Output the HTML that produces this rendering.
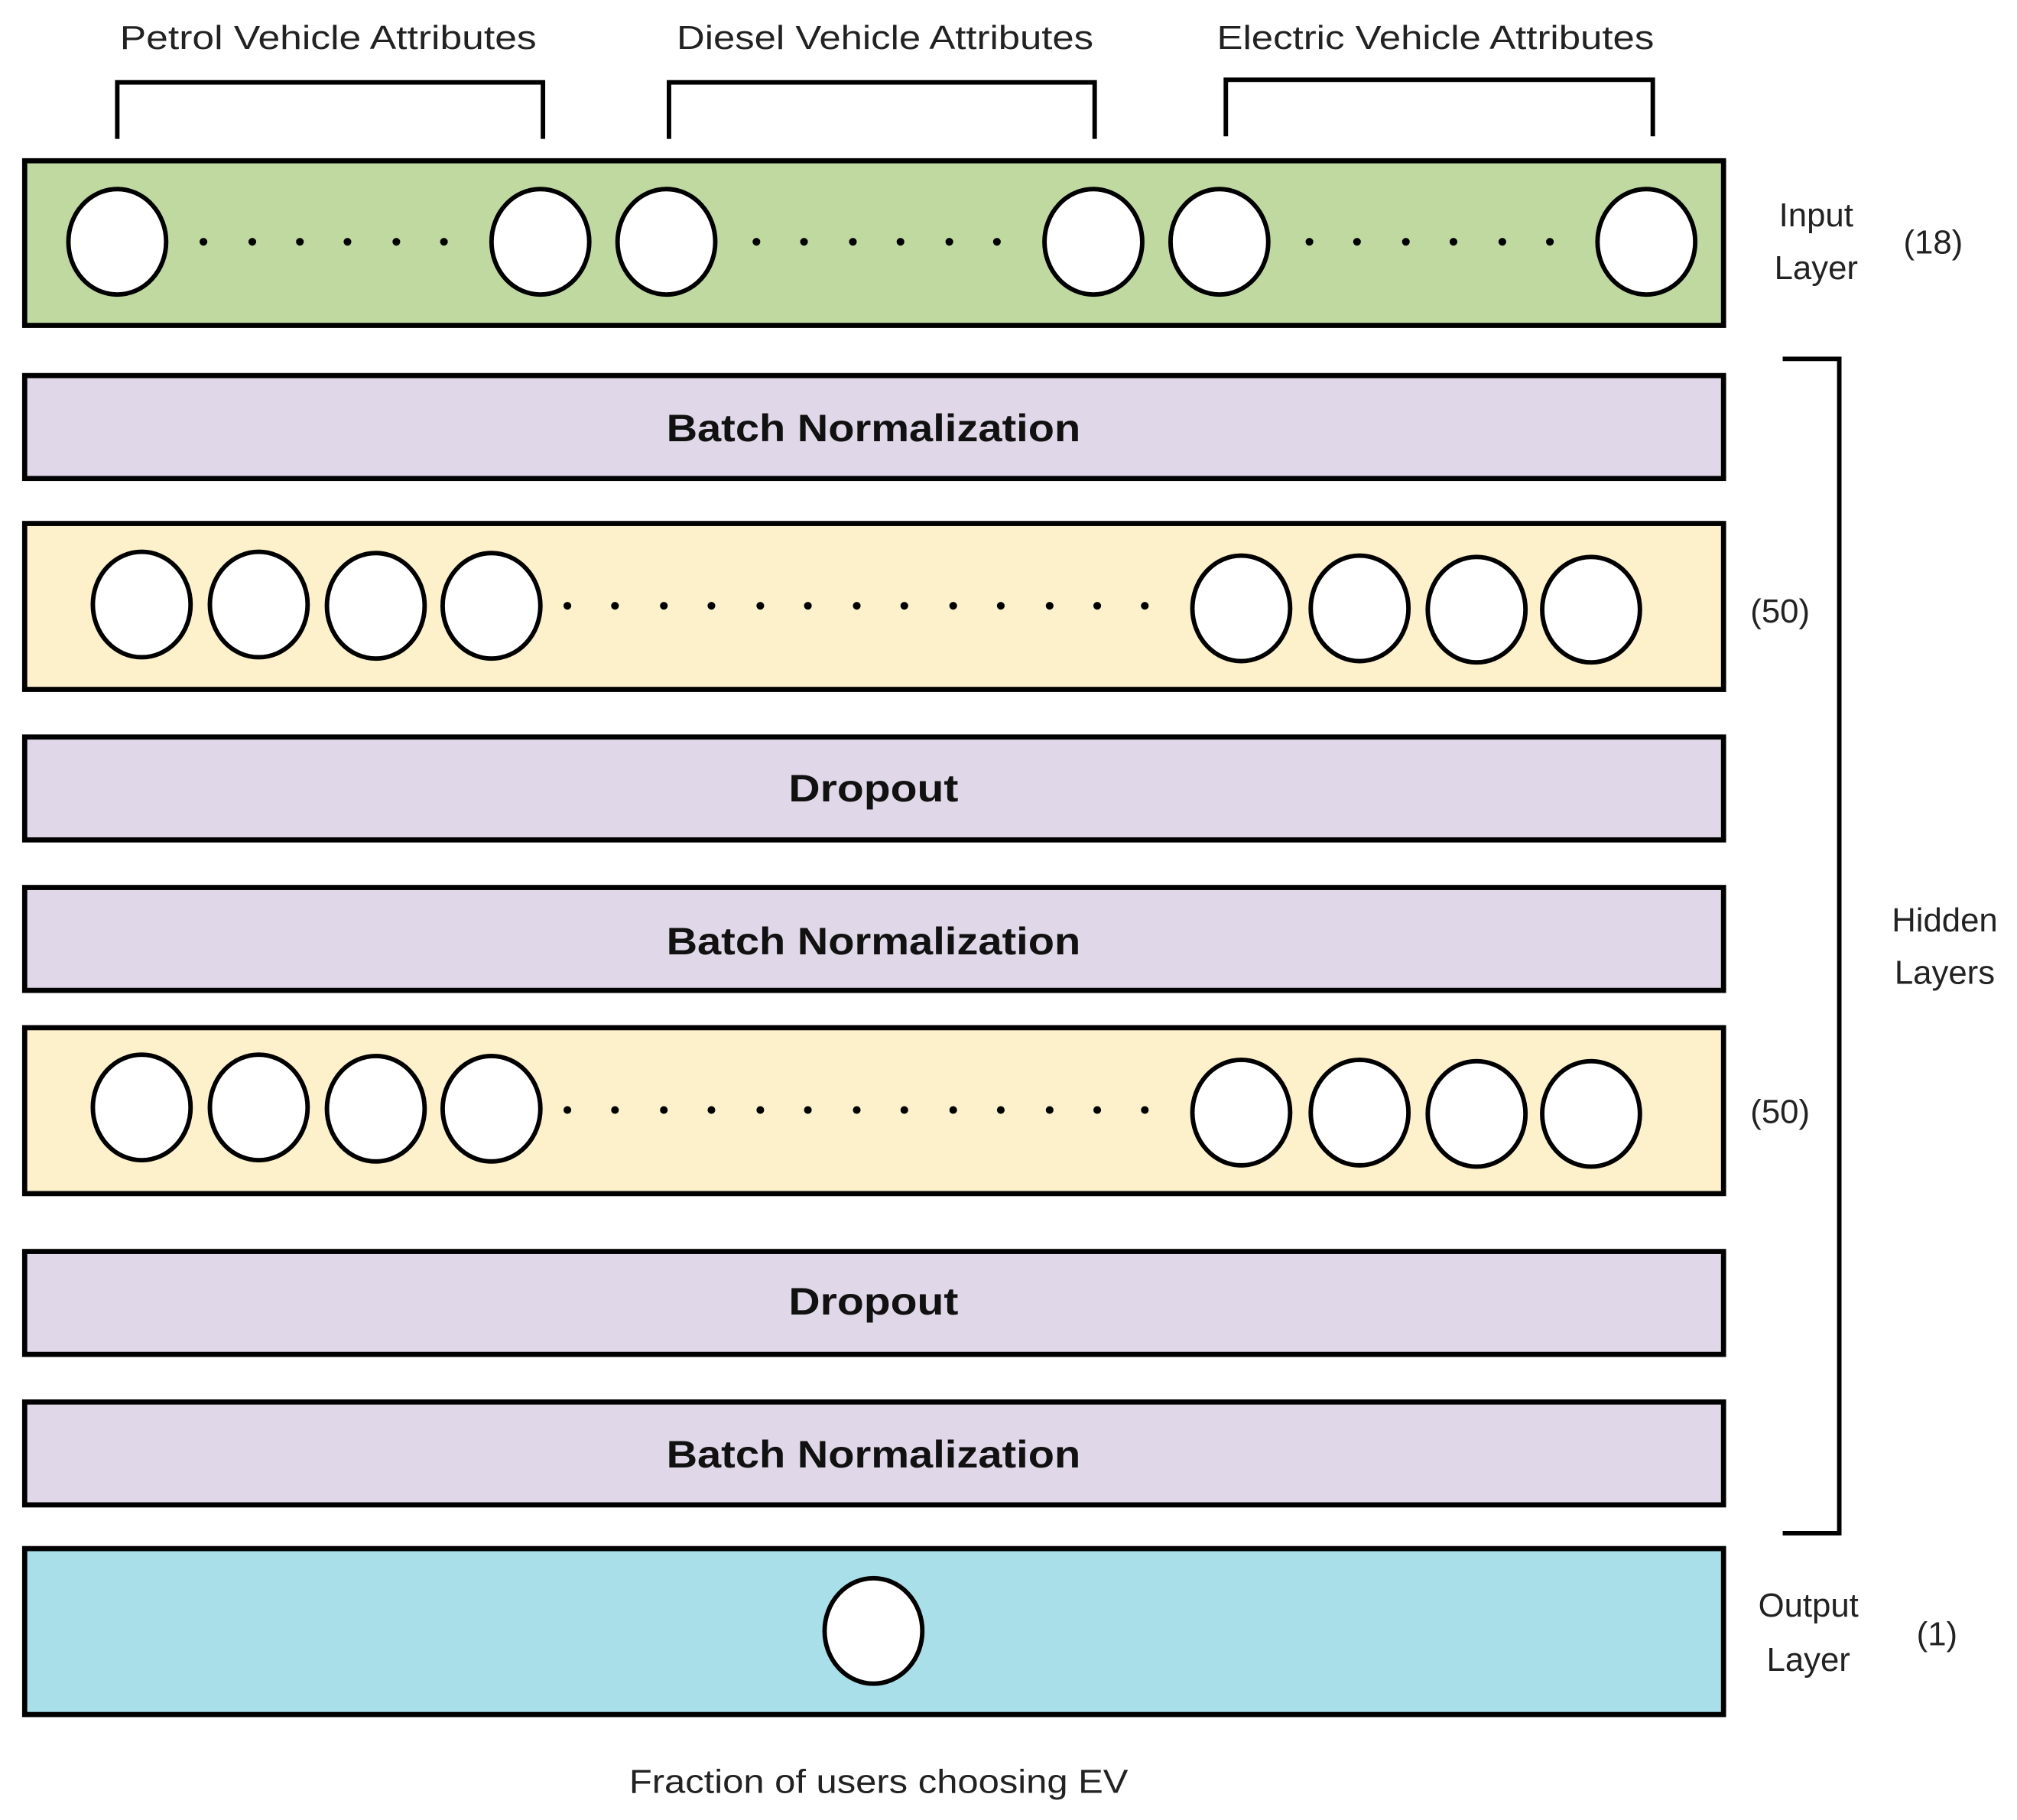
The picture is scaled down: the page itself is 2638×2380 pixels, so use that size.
<!DOCTYPE html>
<html><head><meta charset="utf-8"><style>html,body{margin:0;padding:0;background:#fff}svg{display:block}</style></head><body>
<svg width="2638" height="2380" viewBox="0 0 1568 1415" xmlns="http://www.w3.org/2000/svg" font-family="'Liberation Sans', sans-serif">
<rect width="1568" height="1415" fill="#fff"/>
<g font-size="26" fill="#222" text-anchor="middle">
<text x="255" y="38" textLength="324" lengthAdjust="spacingAndGlyphs">Petrol Vehicle Attributes</text>
<text x="688" y="38" textLength="324" lengthAdjust="spacingAndGlyphs">Diesel Vehicle Attributes</text>
<text x="1116" y="38" textLength="340" lengthAdjust="spacingAndGlyphs">Electric Vehicle Attributes</text>
</g>
<g fill="none" stroke="#000" stroke-width="3.5">
<path d="M91 108 V64 H422 V108"/>
<path d="M520 108 V64 H851 V108"/>
<path d="M953 106 V62 H1285 V106"/>
<path d="M1386 279 H1430 V1192 H1386"/>
</g>
<g stroke="#000" stroke-width="4">
<rect x="19" y="125" width="1321" height="128" fill="#bfd9a1"/>
<rect x="19" y="292" width="1321" height="80" fill="#e0d8e8"/>
<rect x="19" y="407" width="1321" height="129" fill="#fdf1cb"/>
<rect x="19" y="573" width="1321" height="80" fill="#e0d8e8"/>
<rect x="19" y="690" width="1321" height="80" fill="#e0d8e8"/>
<rect x="19" y="799" width="1321" height="129" fill="#fdf1cb"/>
<rect x="19" y="973" width="1321" height="80" fill="#e0d8e8"/>
<rect x="19" y="1090" width="1321" height="80" fill="#e0d8e8"/>
<rect x="19" y="1204" width="1321" height="129" fill="#a9dfe9"/>
</g>
<g fill="#fff" stroke="#000" stroke-width="3.5">
<ellipse cx="91" cy="188" rx="38" ry="41"/><ellipse cx="420" cy="188" rx="38" ry="41"/>
<ellipse cx="518" cy="188" rx="38" ry="41"/><ellipse cx="850" cy="188" rx="38" ry="41"/>
<ellipse cx="948" cy="188" rx="38" ry="41"/><ellipse cx="1280" cy="188" rx="38" ry="41"/>
<ellipse cx="110" cy="470" rx="38" ry="41"/><ellipse cx="201" cy="470" rx="38" ry="41"/><ellipse cx="292" cy="471" rx="38" ry="41"/><ellipse cx="382" cy="471" rx="38" ry="41"/>
<ellipse cx="965" cy="473" rx="38" ry="41"/><ellipse cx="1057" cy="473" rx="38" ry="41"/><ellipse cx="1148" cy="474" rx="38" ry="41"/><ellipse cx="1237" cy="474" rx="38" ry="41"/>
<ellipse cx="110" cy="861" rx="38" ry="41"/><ellipse cx="201" cy="861" rx="38" ry="41"/><ellipse cx="292" cy="862" rx="38" ry="41"/><ellipse cx="382" cy="862" rx="38" ry="41"/>
<ellipse cx="965" cy="865" rx="38" ry="41"/><ellipse cx="1057" cy="865" rx="38" ry="41"/><ellipse cx="1148" cy="866" rx="38" ry="41"/><ellipse cx="1237" cy="866" rx="38" ry="41"/>
<ellipse cx="679" cy="1268" rx="38" ry="41"/>
</g>
<g fill="#000">
<circle cx="158" cy="188" r="3"/><circle cx="196" cy="188" r="3"/><circle cx="233" cy="188" r="3"/><circle cx="270" cy="188" r="3"/><circle cx="308" cy="188" r="3"/><circle cx="345" cy="188" r="3"/>
<circle cx="588" cy="188" r="3"/><circle cx="625" cy="188" r="3"/><circle cx="663" cy="188" r="3"/><circle cx="700" cy="188" r="3"/><circle cx="738" cy="188" r="3"/><circle cx="775" cy="188" r="3"/>
<circle cx="1018" cy="188" r="3"/><circle cx="1055" cy="188" r="3"/><circle cx="1093" cy="188" r="3"/><circle cx="1130" cy="188" r="3"/><circle cx="1168" cy="188" r="3"/><circle cx="1205" cy="188" r="3"/>
<circle cx="441" cy="471" r="3"/><circle cx="478" cy="471" r="3"/><circle cx="516" cy="471" r="3"/><circle cx="553" cy="471" r="3"/><circle cx="591" cy="471" r="3"/><circle cx="628" cy="471" r="3"/><circle cx="666" cy="471" r="3"/><circle cx="703" cy="471" r="3"/><circle cx="741" cy="471" r="3"/><circle cx="778" cy="471" r="3"/><circle cx="816" cy="471" r="3"/><circle cx="853" cy="471" r="3"/><circle cx="890" cy="471" r="3"/>
<circle cx="441" cy="863" r="3"/><circle cx="478" cy="863" r="3"/><circle cx="516" cy="863" r="3"/><circle cx="553" cy="863" r="3"/><circle cx="591" cy="863" r="3"/><circle cx="628" cy="863" r="3"/><circle cx="666" cy="863" r="3"/><circle cx="703" cy="863" r="3"/><circle cx="741" cy="863" r="3"/><circle cx="778" cy="863" r="3"/><circle cx="816" cy="863" r="3"/><circle cx="853" cy="863" r="3"/><circle cx="890" cy="863" r="3"/>
</g>
<g font-size="30" font-weight="bold" fill="#111" text-anchor="middle">
<text x="679" y="343" textLength="322" lengthAdjust="spacingAndGlyphs">Batch Normalization</text>
<text x="679" y="623" textLength="132" lengthAdjust="spacingAndGlyphs">Dropout</text>
<text x="679" y="742" textLength="322" lengthAdjust="spacingAndGlyphs">Batch Normalization</text>
<text x="679" y="1022" textLength="132" lengthAdjust="spacingAndGlyphs">Dropout</text>
<text x="679" y="1141" textLength="322" lengthAdjust="spacingAndGlyphs">Batch Normalization</text>
</g>
<g font-size="26" fill="#222" text-anchor="middle">
<text x="1412" y="176">Input</text><text x="1412" y="217">Layer</text>
<text x="1503" y="197">(18)</text>
<text x="1384" y="484">(50)</text>
<text x="1384" y="873">(50)</text>
<text x="1512" y="724">Hidden</text><text x="1512" y="765">Layers</text>
<text x="1406" y="1257">Output</text><text x="1406" y="1299">Layer</text>
<text x="1506" y="1279">(1)</text>
<text x="683" y="1394" textLength="388" lengthAdjust="spacingAndGlyphs">Fraction of users choosing EV</text>
</g>
</svg>
</body></html>
